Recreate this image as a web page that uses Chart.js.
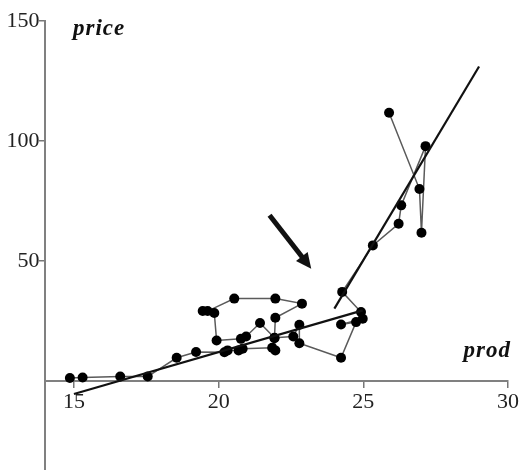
<!DOCTYPE html>
<html>
<head>
<meta charset="utf-8">
<script src="https://cdn.jsdelivr.net/npm/chart.js@4/dist/chart.umd.min.js"></script>
<style>
  html, body { margin: 0; padding: 0; background: #fff; }
  canvas { display: block; }
</style>
</head>
<body>
<canvas id="chart" width="524" height="470"></canvas>
<script>
// connected observations, in time order
const prod = [14.86, 15.3, 16.6, 17.55, 18.55, 19.22, 20.2, 20.31, 20.69, 20.83,
  21.85, 21.96, 21.93, 21.96, 22.88, 21.96, 20.54, 19.62, 19.45, 19.85,
  19.93, 20.77, 20.95, 21.43, 21.93, 22.58, 22.79, 22.79, 24.23, 24.75,
  24.23, 24.98, 24.92, 24.27, 25.33, 26.22, 26.31, 27.15, 27.01, 26.94, 25.89];
const price = [1.1, 1.3, 1.7, 1.7, 9.5, 11.9, 11.8, 12.6, 12.6, 13.3,
  13.7, 12.6, 17.7, 26.2, 32.1, 34.2, 34.2, 29, 29, 28.2,
  16.7, 17.4, 18.4, 24, 17.9, 18.4, 23.3, 15.6, 9.5, 24.4,
  23.4, 25.8, 28.6, 37, 56.4, 65.4, 73.1, 97.8, 61.7, 79.9, 111.7];

// two fitted regimes
const fitLowProd = [15.0, 24.98];
const fitLowPrice = [-5.6, 29.3];
const fitHighProd = [24.0, 29.0];
const fitHighPrice = [30, 131];

const xTicks = [15, 20, 25, 30];
const yTicks = [50, 100, 150];

function toPoints(xs, ys) {
  return xs.map((x, i) => ({ x: x, y: ys[i] }));
}

// center-positioned axes should not eat into the plot area
function noSpace(s) {
  if (s.isHorizontal()) s.height = 0;
  else s.width = 0;
  s.paddingTop = 0;
  s.paddingBottom = 0;
  s.paddingLeft = 0;
  s.paddingRight = 0;
}

const serif = "'Liberation Serif', 'DejaVu Serif', serif";

// axis names and the arrow
const extras = {
  id: "extras",
  afterDatasetsDraw(chart) {
    const ctx = chart.ctx;
    const xs = chart.scales.x;
    const ys = chart.scales.y;
    ctx.save();
    ctx.fillStyle = "#111";
    ctx.font = "bold italic 23px " + serif;
    ctx.letterSpacing = "1px";
    ctx.textBaseline = "alphabetic";
    ctx.textAlign = "left";
    ctx.fillText("price", 73, 35);
    ctx.textAlign = "right";
    ctx.fillText("prod", 511, 357);

    // arrow pointing at the break
    const x1 = xs.getPixelForValue(21.76), y1 = ys.getPixelForValue(69);
    const x2 = xs.getPixelForValue(23.2), y2 = ys.getPixelForValue(46.7);
    const ang = Math.atan2(y2 - y1, x2 - x1);
    const head = 17;
    ctx.strokeStyle = "#111";
    ctx.lineWidth = 5;
    ctx.beginPath();
    ctx.moveTo(x1, y1);
    ctx.lineTo(x2 - Math.cos(ang) * head * 0.7, y2 - Math.sin(ang) * head * 0.7);
    ctx.stroke();
    ctx.beginPath();
    ctx.moveTo(x2, y2);
    ctx.lineTo(x2 - head * Math.cos(ang - 0.45), y2 - head * Math.sin(ang - 0.45));
    ctx.lineTo(x2 - head * Math.cos(ang + 0.45), y2 - head * Math.sin(ang + 0.45));
    ctx.closePath();
    ctx.fill();
    ctx.restore();
  },
};

new Chart(document.getElementById("chart"), {
  type: "scatter",
  data: {
    datasets: [
      {
        data: toPoints(fitLowProd, fitLowPrice),
        showLine: true,
        borderColor: "#111",
        borderWidth: 2.2,
        pointRadius: 0,
        order: 0,
      },
      {
        data: toPoints(fitHighProd, fitHighPrice),
        showLine: true,
        borderColor: "#111",
        borderWidth: 2.2,
        pointRadius: 0,
        order: 0,
      },
      {
        data: toPoints(prod, price),
        showLine: true,
        borderColor: "#5a5a5a",
        borderWidth: 1.5,
        pointRadius: 5,
        pointBackgroundColor: "#000",
        pointBorderWidth: 0,
        order: 1,
      },
    ],
  },
  options: {
    responsive: false,
    animation: false,
    layout: { autoPadding: false, padding: { left: 45, right: 16, top: 21, bottom: 0 } },
    plugins: { legend: { display: false }, tooltip: { enabled: false } },
    scales: {
      x: {
        type: "linear",
        min: 14,
        max: 30,
        position: { y: 0 },
        afterFit: noSpace,
        afterBuildTicks: (s) => { s.ticks = xTicks.map((v) => ({ value: v })); },
        grid: { drawOnChartArea: false, color: "#777", tickLength: 6, lineWidth: 1.5 },
        border: { color: "#808080", width: 2 },
        ticks: { color: "#222", font: { family: serif, size: 22 }, padding: 2 },
      },
      y: {
        type: "linear",
        min: -37.3,
        max: 150,
        position: { x: 14 },
        afterFit: noSpace,
        afterBuildTicks: (s) => { s.ticks = yTicks.map((v) => ({ value: v })); },
        grid: { drawOnChartArea: false, color: "#777", tickLength: 5, lineWidth: 1.5 },
        border: { color: "#808080", width: 2 },
        ticks: {
          color: "#222",
          font: { family: serif, size: 22 },
          padding: 1,
          callback: (v) => v + " ",
        },
      },
    },
  },
  plugins: [extras],
});
</script>
</body>
</html>
